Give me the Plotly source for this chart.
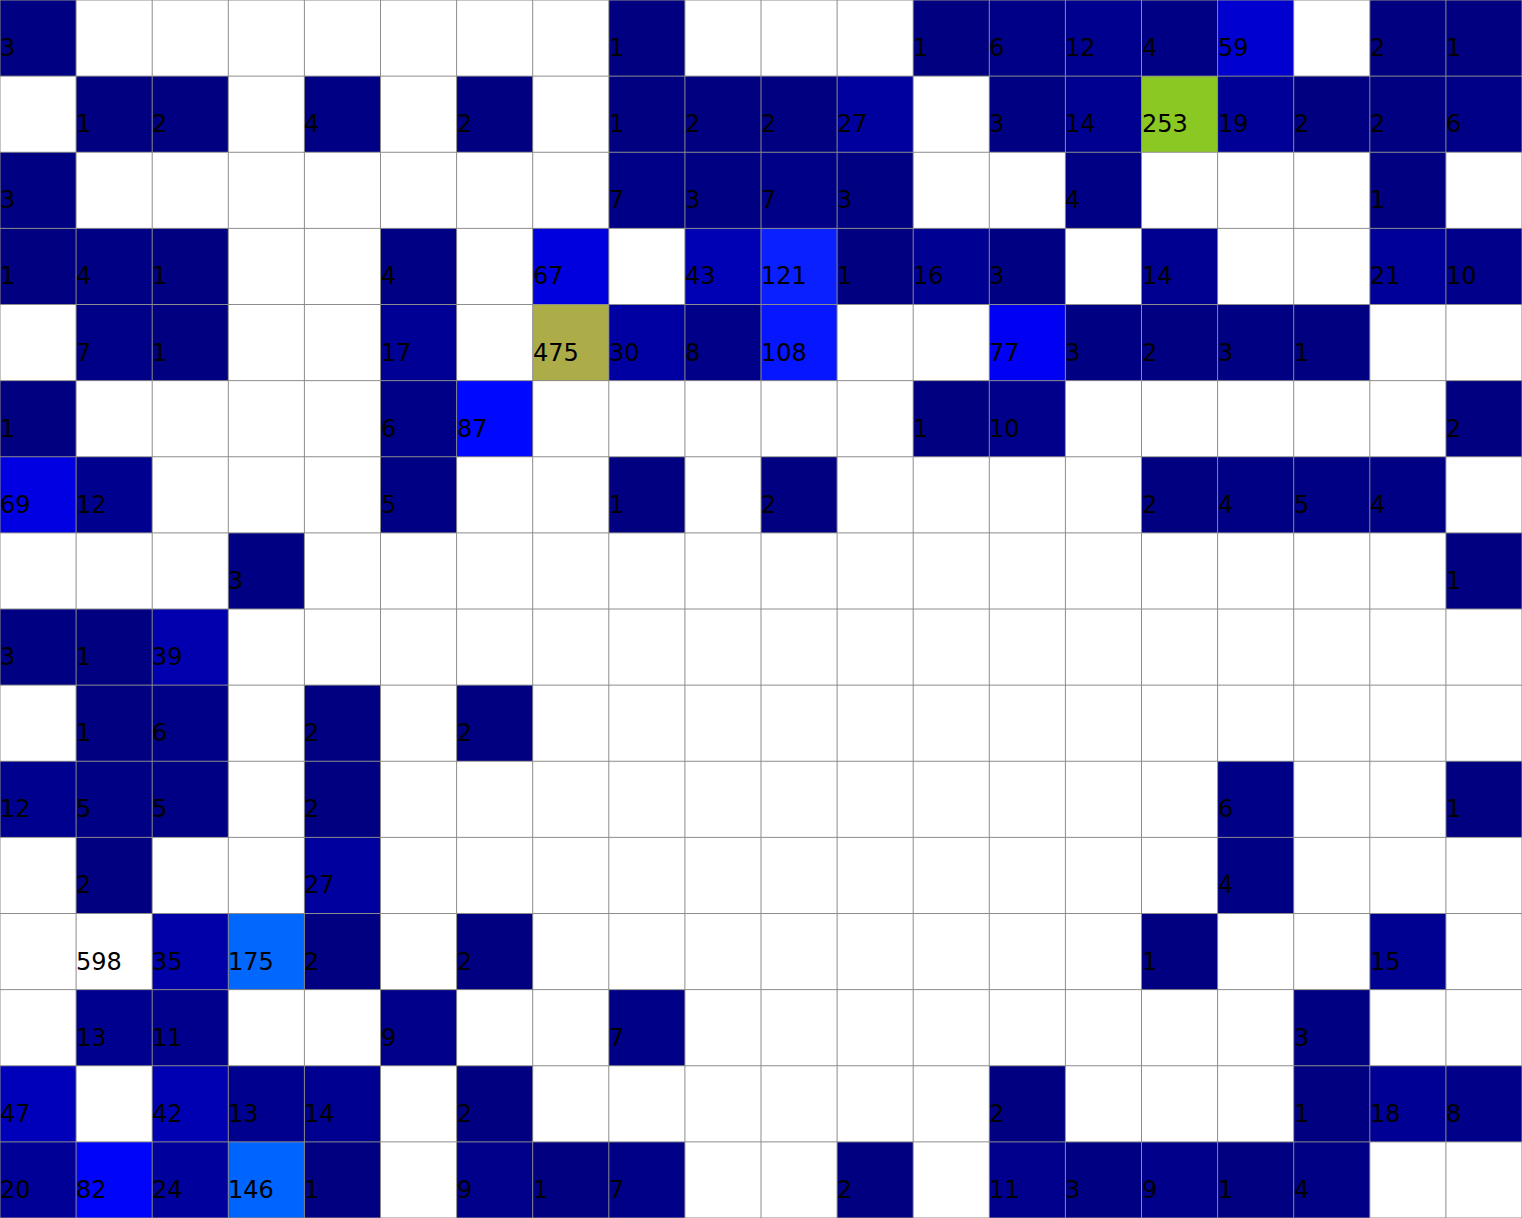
import plotly.graph_objects as go

# ---- data (None = empty cell) ----
col_labels = [f"C{i+1}" for i in range(20)]
row_labels = [f"R{i+1}" for i in range(16)]
N = None
counts = [
    [3, N, N, N, N, N, N, N, 1, N, N, N, 1, 6, 12, 4, 59, N, 2, 1],
    [N, 1, 2, N, 4, N, 2, N, 1, 2, 2, 27, N, 3, 14, 253, 19, 2, 2, 6],
    [3, N, N, N, N, N, N, N, 7, 3, 7, 3, N, N, 4, N, N, N, 1, N],
    [1, 4, 1, N, N, 4, N, 67, N, 43, 121, 1, 16, 3, N, 14, N, N, 21, 10],
    [N, 7, 1, N, N, 17, N, 475, 30, 8, 108, N, N, 77, 3, 2, 3, 1, N, N],
    [1, N, N, N, N, 6, 87, N, N, N, N, N, 1, 10, N, N, N, N, N, 2],
    [69, 12, N, N, N, 5, N, N, 1, N, 2, N, N, N, N, 2, 4, 5, 4, N],
    [N, N, N, 3, N, N, N, N, N, N, N, N, N, N, N, N, N, N, N, 1],
    [3, 1, 39, N, N, N, N, N, N, N, N, N, N, N, N, N, N, N, N, N],
    [N, 1, 6, N, 2, N, 2, N, N, N, N, N, N, N, N, N, N, N, N, N],
    [12, 5, 5, N, 2, N, N, N, N, N, N, N, N, N, N, N, 6, N, N, 1],
    [N, 2, N, N, 27, N, N, N, N, N, N, N, N, N, N, N, 4, N, N, N],
    [N, 598, 35, 175, 2, N, 2, N, N, N, N, N, N, N, N, 1, N, N, 15, N],
    [N, 13, 11, N, N, 9, N, N, 7, N, N, N, N, N, N, N, N, 3, N, N],
    [47, N, 42, 13, 14, N, 2, N, N, N, N, N, N, 2, N, N, N, 1, 18, 8],
    [20, 82, 24, 146, 1, N, 9, 1, 7, N, N, 2, N, 11, 3, 9, 1, 4, N, N],
]

ncols = len(col_labels)
nrows = len(row_labels)

colorscale = [
    [0.0, "rgb(0,0,128)"],
    [0.03, "rgb(0,0,150)"],
    [0.06, "rgb(0,0,170)"],
    [0.10, "rgb(0,0,210)"],
    [0.13, "rgb(0,0,245)"],
    [0.145, "rgb(0,10,255)"],
    [0.20, "rgb(10,30,255)"],
    [0.24, "rgb(0,100,255)"],
    [0.29, "rgb(0,102,255)"],
    [0.42, "rgb(140,200,35)"],
    [0.79, "rgb(170,170,70)"],
    [1.0, "rgb(255,255,255)"],
]

fig = go.Figure(
    go.Heatmap(
        z=counts,
        x=list(range(ncols)),
        y=list(range(nrows)),
        colorscale=colorscale,
        zmin=1,
        zmax=598,
        showscale=False,
        hoverongaps=False,
    )
)

annotations = []
for r, row in enumerate(counts):
    for c, v in enumerate(row):
        if v is None:
            continue
        annotations.append(
            dict(
                x=c - 0.5, y=r, xref="x", yref="y",
                text=str(v), showarrow=False,
                xanchor="left", yanchor="middle",
                xshift=-2, yshift=-10,
                font=dict(family="DejaVu Sans", size=24, color="black"),
            )
        )

shapes = []
for c in range(ncols + 1):
    shapes.append(dict(type="line", xref="x", yref="y", x0=c - 0.5, x1=c - 0.5,
                       y0=-0.5, y1=nrows - 0.5, line=dict(color="rgb(140,140,140)", width=1),
                       layer="above"))
for r in range(nrows + 1):
    shapes.append(dict(type="line", xref="x", yref="y", x0=-0.5, x1=ncols - 0.5,
                       y0=r - 0.5, y1=r - 0.5, line=dict(color="rgb(140,140,140)", width=1),
                       layer="above"))

fig.update_layout(
    width=1522, height=1218,
    margin=dict(l=0, r=0, t=0, b=0),
    paper_bgcolor="white", plot_bgcolor="white",
    xaxis=dict(range=[-0.5, ncols - 0.5], showticklabels=False, showgrid=False,
               zeroline=False, fixedrange=True),
    yaxis=dict(range=[nrows - 0.5, -0.5], showticklabels=False, showgrid=False,
               zeroline=False, fixedrange=True),
    annotations=annotations,
    shapes=shapes,
    showlegend=False,
)

fig.write_html("out.html")
